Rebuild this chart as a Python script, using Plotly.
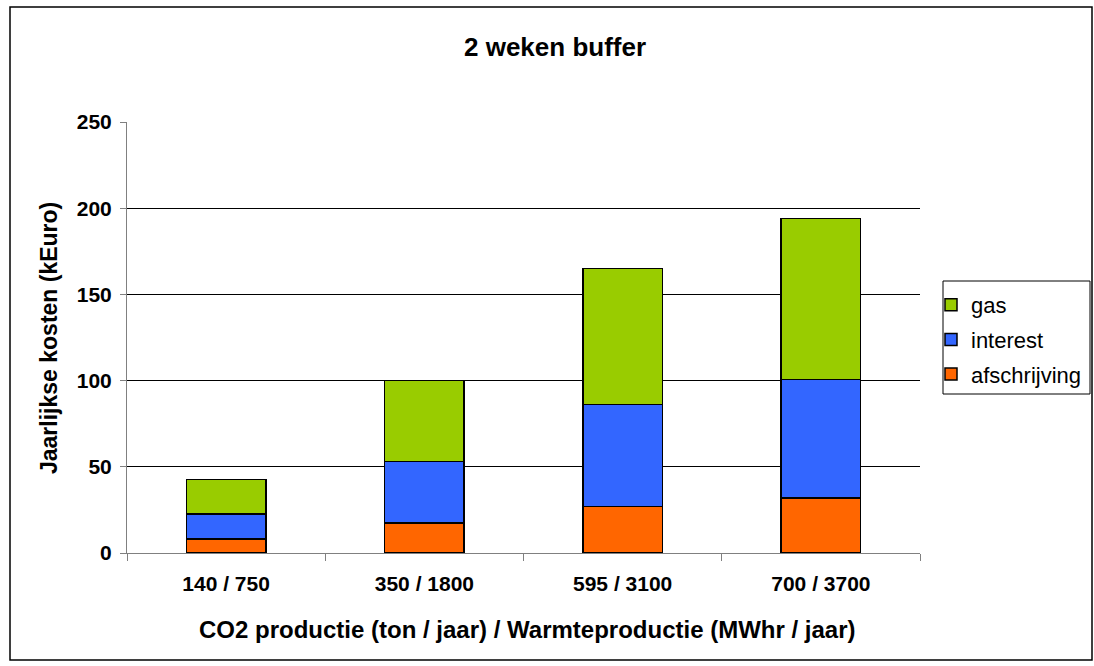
import plotly.graph_objects as go

# Data
categories = ["140 / 750", "350 / 1800", "595 / 3100", "700 / 3700"]
afschrijving = [8, 17.5, 27, 32]
interest = [14.5, 35.5, 59, 68.5]
gas = [20, 47, 79, 93.5]

series = [
    ("afschrijving", afschrijving, "#FF6600", 3),
    ("interest", interest, "#3366FF", 2),
    ("gas", gas, "#99CC00", 1),
]

fig = go.Figure()
for name, vals, color, rank in series:
    fig.add_trace(go.Bar(
        x=categories,
        y=vals,
        name=name,
        legendgroup=name,
        legendrank=rank,
        marker=dict(color=color, line=dict(color="black", width=1.5)),
    ))

font_family = "Liberation Sans, Arial, sans-serif"

# plot area in pixels: x 127..920, y 122..553
L, R, T, B = 127, 174, 122, 113
W, H = 1094 - L - R, 666 - T - B

def px_x(p):
    return (p - L) / W

def px_y(p):
    return (666 - B - p) / H

fig.update_layout(
    width=1094,
    height=666,
    barmode="stack",
    bargap=0.6,
    margin=dict(l=L, r=R, t=T, b=B, autoexpand=False),
    plot_bgcolor="white",
    paper_bgcolor="white",
    font=dict(family=font_family, color="black"),
    showlegend=True,
    legend=dict(
        traceorder="grouped",
        x=px_x(931), y=px_y(284),
        xanchor="left", yanchor="top",
        borderwidth=0,
        bgcolor="rgba(0,0,0,0)",
        font=dict(size=22, family=font_family),
        itemwidth=30,
        tracegroupgap=3,
    ),
    xaxis=dict(
        tickfont=dict(size=21, family=font_family, weight="bold"),
        ticks="outside", tickson="boundaries", ticklen=7,
        tickcolor="#808080",
        ticklabelstandoff=12,
        showline=True, linecolor="#808080", linewidth=1,
        showgrid=False,
    ),
    yaxis=dict(
        range=[0, 250],
        tickvals=[0, 50, 100, 150, 200, 250],
        tickfont=dict(size=21, family=font_family, weight="bold"),
        ticks="outside", ticklen=6, tickcolor="#808080",
        ticklabelstandoff=4,
        showline=True, linecolor="#808080", linewidth=1,
        showgrid=True, gridcolor="black", gridwidth=1,
        zeroline=False,
    ),
    shapes=[
        dict(type="rect", xref="paper", yref="paper",
             x0=px_x(10), x1=px_x(1092), y0=px_y(660), y1=px_y(7),
             line=dict(color="black", width=1.5)),
        # legend frame
        dict(type="rect", xref="paper", yref="paper",
             x0=px_x(943), x1=px_x(1090), y0=px_y(394), y1=px_y(281),
             line=dict(color="black", width=1)),
    ],
    annotations=[
        dict(text="<b>2 weken buffer</b>", xref="paper", yref="paper",
             x=px_x(555), y=px_y(47), xanchor="center", yanchor="middle",
             showarrow=False, font=dict(size=26, family=font_family)),
        dict(text="<b>CO2 productie (ton / jaar) / Warmteproductie (MWhr / jaar)</b>",
             xref="paper", yref="paper",
             x=px_x(527), y=px_y(629), xanchor="center", yanchor="middle",
             showarrow=False, font=dict(size=24, family=font_family)),
        dict(text="<b>Jaarlijkse kosten (kEuro)</b>", xref="paper", yref="paper",
             x=px_x(49), y=px_y(338), xanchor="center", yanchor="middle",
             showarrow=False, textangle=-90,
             font=dict(size=23, family=font_family)),
    ],
)

fig.write_html("out.html", config={"displayModeBar": False},
               post_script="document.body.style.margin='0';")
